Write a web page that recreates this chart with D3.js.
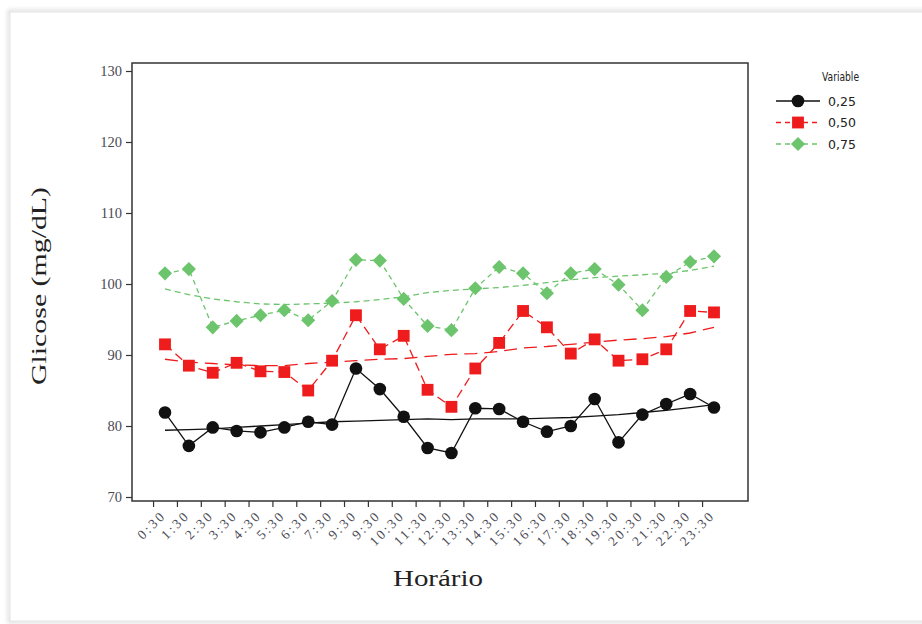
<!DOCTYPE html>
<html><head><meta charset="utf-8">
<script src="https://cdn.jsdelivr.net/npm/d3@7"></script>
<style>body{margin:0;background:#fff;}svg{display:block;}</style>
</head><body>
<svg id="chart" width="922" height="624"></svg>
<script>
const hours = ["0:30","1:30","2:30","3:30","4:30","5:30","6:30","7:30","9:30","9:30","10:30","11:30","12:30","13:30","14:30","15:30","16:30","17:30","18:30","19:30","20:30","21:30","22:30","23:30"];
const yTicks = [70,80,90,100,110,120,130];
const seriesNames = ["0,25","0,50","0,75"];
const v025 = [81.9,77.2,79.8,79.3,79.1,79.8,80.6,80.2,88.1,85.2,81.3,76.9,76.2,82.5,82.4,80.6,79.2,80.0,83.8,77.7,81.6,83.1,84.5,82.6];
const v050 = [91.5,88.5,87.5,88.9,87.7,87.6,85.0,89.2,95.6,90.8,92.7,85.1,82.7,88.1,91.7,96.2,93.9,90.2,92.2,89.2,89.4,90.8,96.2,96.0];
const v075 = [101.5,102.1,93.9,94.8,95.6,96.3,94.9,97.6,103.4,103.3,97.9,94.1,93.5,99.4,102.4,101.5,98.7,101.5,102.1,99.9,96.3,101.0,103.1,103.9];
const fit025 = [79.4,79.5,79.6,79.8,80.0,80.2,80.4,80.6,80.7,80.8,80.9,81.0,80.9,81.0,81.0,81.0,81.1,81.2,81.4,81.6,81.9,82.2,82.6,83.0];
const fit050 = [89.4,89.0,88.8,88.6,88.5,88.5,88.8,89.0,89.2,89.4,89.5,89.8,90.1,90.2,90.5,91.0,91.2,91.5,91.8,92.1,92.3,92.6,93.1,93.9];
const fit075 = [99.3,98.5,97.9,97.5,97.2,97.1,97.2,97.3,97.5,97.8,98.2,98.8,99.1,99.3,99.5,99.8,100.2,100.6,100.9,101.1,101.3,101.5,101.9,102.5];

const svg = d3.select("#chart");
const defs = svg.append("defs");
const f = defs.append("filter").attr("id","sh").attr("x","-5%").attr("y","-5%").attr("width","110%").attr("height","110%");
f.append("feGaussianBlur").attr("stdDeviation",2);
svg.append("rect").attr("x",9).attr("y",11).attr("width",920).attr("height",611)
  .attr("fill","none").attr("stroke","#ccc").attr("stroke-width",2).attr("filter","url(#sh)");
svg.append("rect").attr("x",10).attr("y",12).attr("width",918).attr("height",609)
  .attr("fill","#fff").attr("stroke","#e4e4e4").attr("stroke-width",1);

const L=132, R=748, T=63, B=501;
const x = d3.scaleLinear().domain([0,23]).range([165,714]);
const xAxisScale = x.copy().domain([0.5,23.5]);
const y = d3.scaleLinear().domain([70,130]).range([497,71]);

svg.append("rect").attr("x",L).attr("y",T).attr("width",R-L).attr("height",B-T)
  .attr("fill","#fff").attr("stroke","#333").attr("stroke-width",1.5);

const ya = svg.append("g").attr("transform",`translate(${L},0)`)
  .call(d3.axisLeft(y).tickValues(yTicks).tickSize(6).tickPadding(4));
ya.select(".domain").remove();
ya.selectAll("line").attr("stroke","#333").attr("stroke-width",1.2);
ya.selectAll("text").attr("font-family","'Liberation Serif',serif").attr("font-size",14.5).attr("fill","#4a4a55");

const xa = svg.append("g").attr("transform",`translate(0,${B})`)
  .call(d3.axisBottom(xAxisScale).tickValues(d3.range(hours.length)).tickFormat(i=>hours[i]).tickSize(6).tickPadding(3));
xa.select(".domain").remove();
xa.selectAll("line").attr("stroke","#333").attr("stroke-width",1.2);
xa.selectAll("text").attr("font-family","'Liberation Serif',serif").attr("font-size",13.5).attr("fill","#4a4a55")
  .attr("letter-spacing","2.5px")
  .attr("text-anchor","end").attr("dy","0.3em").attr("transform","translate(4,6) rotate(-45)");

svg.append("text").attr("x",438).attr("y",586).attr("text-anchor","middle")
  .attr("font-family","'Liberation Serif',serif").attr("font-size",23).attr("fill","#222")
  .attr("textLength",90).attr("lengthAdjust","spacingAndGlyphs").text("Horário");
svg.append("text").attr("transform","translate(46,286) rotate(-90)").attr("text-anchor","middle")
  .attr("font-family","'Liberation Serif',serif").attr("font-size",22).attr("fill","#222")
  .attr("textLength",198).attr("lengthAdjust","spacingAndGlyphs").text("Glicose (mg/dL)");

const colors = ["#111","#ee1c1c","#6cc46c"];
const dashes = [null,"9,5","5,4"];
const fitDash = [null,"13,7","6,4"];
const data = [v025,v050,v075];
const fits = [fit025,fit050,fit075];
const line = d3.line().x((d,i)=>x(i)).y(d=>y(d));

const sym = [d3.symbol().type(d3.symbolCircle).size(125), d3.symbol().type(d3.symbolSquare).size(140), d3.symbol().type(d3.symbolSquare).size(100)];
const rot = [0,0,45];

fits.forEach((s,k)=>{
  svg.append("path").datum(s).attr("d",line).attr("fill","none").attr("stroke",colors[k])
    .attr("stroke-width",1.3).attr("stroke-dasharray",fitDash[k]);
});
data.forEach((s,k)=>{
  svg.append("path").datum(s).attr("d",line).attr("fill","none").attr("stroke",colors[k])
    .attr("stroke-width",1.3).attr("stroke-dasharray",dashes[k]);
  svg.append("g").selectAll("path").data(s).join("path")
    .attr("d",sym[k]).attr("transform",(d,i)=>`translate(${x(i)},${y(d)}) rotate(${rot[k]})`)
    .attr("fill",colors[k]);
});

const lg = svg.append("g");
lg.append("text").attr("x",822).attr("y",81).attr("font-family","'DejaVu Sans',sans-serif").attr("font-size",11.5).attr("fill","#222")
  .attr("textLength",37).attr("lengthAdjust","spacingAndGlyphs").text("Variable");
seriesNames.forEach((n,k)=>{
  const yy = 101 + k*21.5;
  lg.append("line").attr("x1",776).attr("x2",820).attr("y1",yy).attr("y2",yy).attr("stroke",colors[k]).attr("stroke-width",1.5).attr("stroke-dasharray",dashes[k]?"5,4":null);
  lg.append("path").attr("d",sym[k]).attr("transform",`translate(798,${yy}) rotate(${rot[k]})`).attr("fill",colors[k]);
  lg.append("text").attr("x",828).attr("y",yy+4.5).attr("font-family","'DejaVu Sans',sans-serif").attr("font-size",12.5).attr("fill","#222").text(n);
});
</script>
</body></html>
